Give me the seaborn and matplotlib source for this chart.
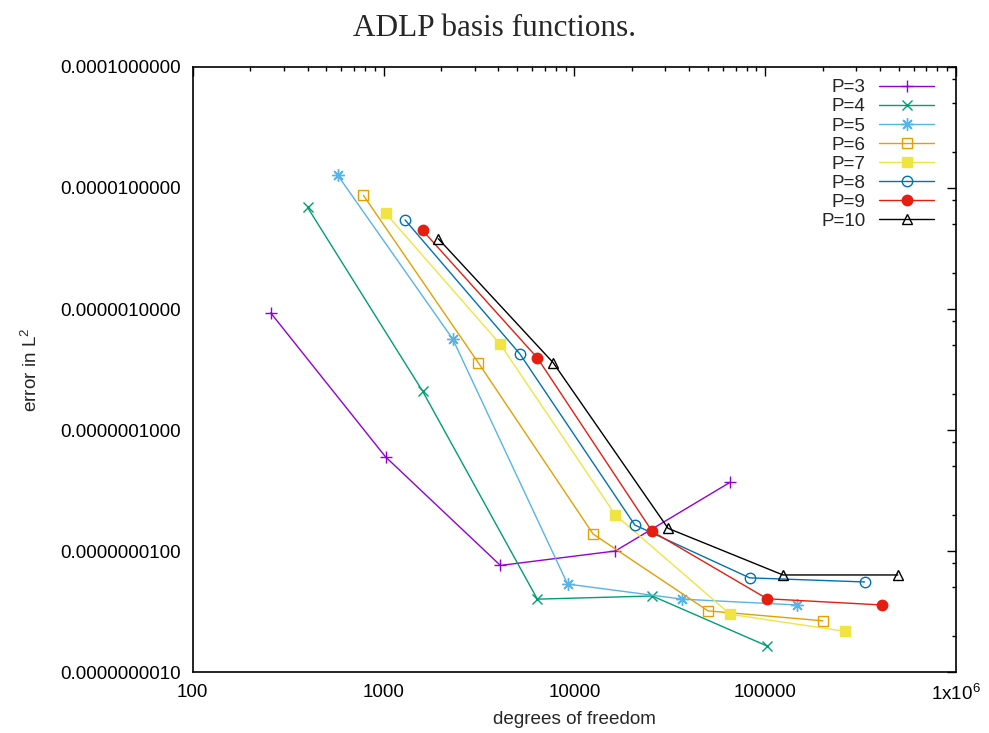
import numpy as np
import pandas as pd
import matplotlib
matplotlib.use("Agg")
import matplotlib.pyplot as plt
import seaborn as sns
from matplotlib.ticker import LogLocator, FixedLocator, FuncFormatter, NullFormatter

# ---- data ----
labels = ["P=3", "P=4", "P=5", "P=6", "P=7", "P=8", "P=9", "P=10"]

p3_x = [256, 1024, 4096, 16384, 65536]
p3_y = [9.3e-7, 6.0e-8, 7.6e-9, 1.0e-8, 3.7e-8]
p4_x = [400, 1600, 6400, 25600, 102400]
p4_y = [6.9e-6, 2.1e-7, 4.0e-9, 4.25e-9, 1.64e-9]
p5_x = [576, 2304, 9216, 36864, 147456]
p5_y = [1.27e-5, 5.65e-7, 5.33e-9, 4.0e-9, 3.58e-9]
p6_x = [784, 3136, 12544, 50176, 200704]
p6_y = [8.7e-6, 3.6e-7, 1.38e-8, 3.2e-9, 2.65e-9]
p7_x = [1024, 4096, 16384, 65536, 262144]
p7_y = [6.2e-6, 5.1e-7, 1.99e-8, 3.0e-9, 2.17e-9]
p8_x = [1296, 5184, 20736, 82944, 331776]
p8_y = [5.45e-6, 4.25e-7, 1.64e-8, 6.0e-9, 5.55e-9]
p9_x = [1600, 6400, 25600, 102400, 409600]
p9_y = [4.47e-6, 3.94e-7, 1.45e-8, 4.03e-9, 3.58e-9]
p10_x = [1936, 7744, 30976, 123904, 495616]
p10_y = [3.81e-6, 3.6e-7, 1.54e-8, 6.34e-9, 6.34e-9]

xs_all = [p3_x, p4_x, p5_x, p6_x, p7_x, p8_x, p9_x, p10_x]
ys_all = [p3_y, p4_y, p5_y, p6_y, p7_y, p8_y, p9_y, p10_y]

x_ticks = [100, 1000, 10000, 100000, 1000000]
x_ticklabels = ["100", "1000", "10000", "100000", "1x10$^{6}$"]
y_ticks = [1e-9, 1e-8, 1e-7, 1e-6, 1e-5, 1e-4]

# ---- styles ----
colors = ["#9400D3", "#009E73", "#56B4E9", "#E69F00", "#F0E442", "#0072B2", "#E51E10", "#000000"]
markers = ["+", "x", (8, 2, 0), "s", "s", "o", "o", "^"]
filled = [True, True, True, False, True, False, True, False]
msizes = [9, 7, 9, 7.5, 7.5, 7.5, 7.5, 7.5]

sns.set_theme(style="white")
plt.rcParams['font.family'] = ['Liberation Sans', 'DejaVu Sans']
plt.rcParams['mathtext.default'] = 'regular'

fig = plt.figure(figsize=(9.89, 7.33), dpi=100)
ax = fig.add_axes([0.1949, 0.0832, 0.7717, 0.8254])

for lab, xs, ys, col, mk, fl, ms in zip(labels, xs_all, ys_all, colors, markers, filled, msizes):
    df = pd.DataFrame({"dof": xs, "err": ys})
    sns.lineplot(data=df, x="dof", y="err", ax=ax, color=col, lw=1.0,
                 marker=mk, markersize=ms,
                 markerfacecolor=(col if fl else "none"),
                 markeredgecolor=col, markeredgewidth=1.0,
                 label=lab, sort=False, estimator=None)

ax.set_xscale("log")
ax.set_yscale("log")
ax.set_xlim(100, 1e6)
ax.set_ylim(1e-9, 1e-4)

ax.xaxis.set_major_locator(FixedLocator(x_ticks))
ax.set_xticklabels(x_ticklabels)
ax.xaxis.set_minor_locator(LogLocator(base=10, subs=np.arange(2, 10), numticks=20))
ax.xaxis.set_minor_formatter(NullFormatter())

ax.yaxis.set_major_locator(FixedLocator(y_ticks))
ax.yaxis.set_major_formatter(FuncFormatter(lambda v, p: f"{v:.10f}"))
ax.yaxis.set_minor_locator(LogLocator(base=10, subs=[2.0, 5.0, 8.0], numticks=20))
ax.yaxis.set_minor_formatter(NullFormatter())

ax.tick_params(which="both", direction="in", top=True, right=True, colors="black",
               labelsize=13.6, width=1.0)
ax.tick_params(which="major", length=6.5, pad=8.5)
ax.tick_params(which="minor", length=3)

for s in ax.spines.values():
    s.set_color("black")
    s.set_linewidth(1.2)

ax.set_xlabel("degrees of freedom", fontsize=13.6, labelpad=5)
ax.set_ylabel("error in L$^{2}$", fontsize=13.6, labelpad=14)
fig.text(0.5, 1 - 28 / 733, "ADLP basis functions.", fontsize=22.5,
         family="Liberation Serif", ha="center", va="center")

leg = ax.legend(loc="upper right", bbox_to_anchor=(0.9715, 0.980), frameon=False,
                markerfirst=False, handlelength=2.9, handletextpad=0.75,
                labelspacing=0.1, borderpad=0, borderaxespad=0, fontsize=13.6)

fig.savefig("out.png", dpi=100)
